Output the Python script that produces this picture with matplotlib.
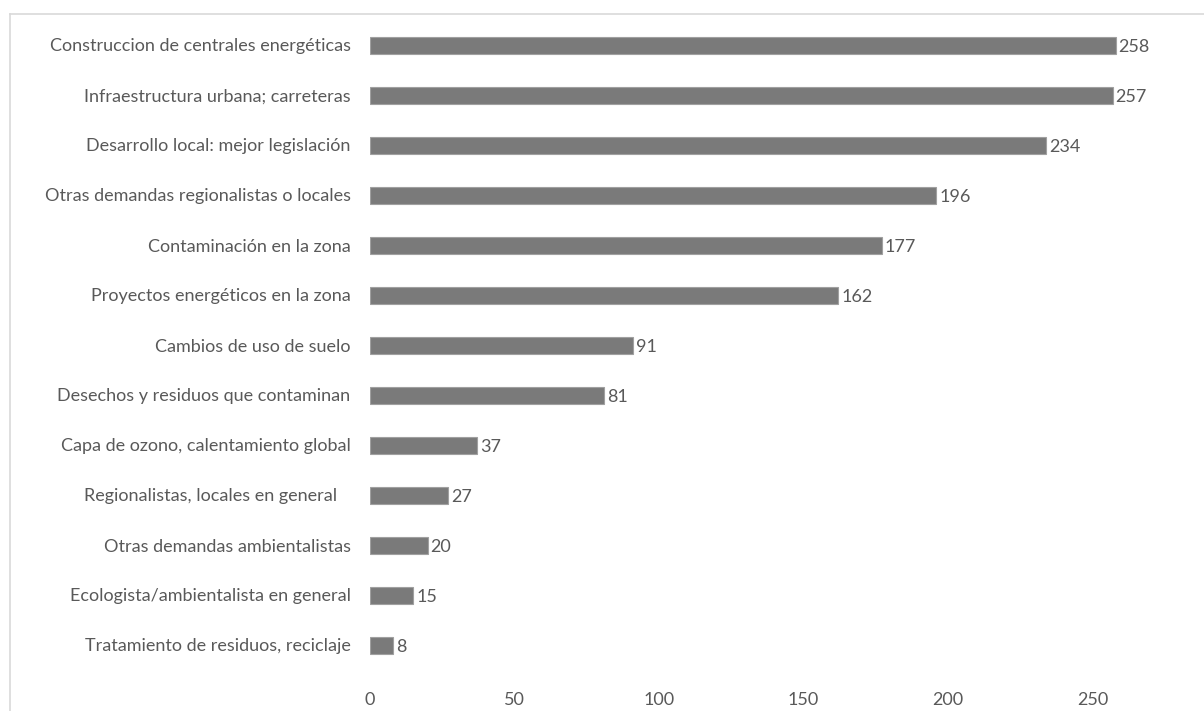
import matplotlib.pyplot as plt
from matplotlib.lines import Line2D

categorias = [
    "Construccion de centrales energéticas",
    "Infraestructura urbana; carreteras",
    "Desarrollo local: mejor legislación",
    "Otras demandas regionalistas o locales",
    "Contaminación en la zona",
    "Proyectos energéticos en la zona",
    "Cambios de uso de suelo",
    "Desechos y residuos que contaminan",
    "Capa de ozono, calentamiento global",
    "Regionalistas, locales en general   ",
    "Otras demandas ambientalistas",
    "Ecologista/ambientalista en general",
    "Tratamiento de residuos, reciclaje",
]
valores = [258, 257, 234, 196, 177, 162, 91, 81, 37, 27, 20, 15, 8]
ticks_x = [0, 50, 100, 150, 200, 250]

plt.rcParams['font.family'] = ['Lato', 'DejaVu Sans']
gris_texto = "#595959"
tam = 13

fig = plt.figure(figsize=(12.04, 7.11), dpi=100)
ax = fig.add_axes([370 / 1204, 1 - 670 / 711, (1190 - 370) / 1204, (670 - 20) / 711])

pos = list(range(len(valores)))
barras = ax.barh(pos, valores, height=0.34, color="#7a7a7a", edgecolor="#a0a0a0", linewidth=0.8)
ax.set_ylim(len(valores) - 0.5, -0.5)
ax.set_xlim(0, 820 / 2.89)

ax.set_yticks(pos)
ax.set_yticklabels(categorias, fontsize=tam, color=gris_texto)
ax.set_xticks(ticks_x)
ax.set_xticklabels([str(t) for t in ticks_x], fontsize=tam, color=gris_texto)
ax.tick_params(axis="y", length=0, pad=14)
ax.tick_params(axis="x", length=0, pad=16)
for s in ax.spines.values():
    s.set_visible(False)

for b, v in zip(barras, valores):
    ax.text(b.get_width() + 1, b.get_y() + b.get_height() / 2, str(v),
            va="center_baseline", ha="left", fontsize=tam, color=gris_texto)

# marco del gráfico
fig.add_artist(Line2D([10 / 1204, 10 / 1204], [0, 1 - 14 / 711], color="#d9d9d9", lw=1.2))
fig.add_artist(Line2D([10 / 1204, 1], [1 - 14 / 711, 1 - 14 / 711], color="#d9d9d9", lw=1.2))

fig.savefig("out.png", dpi=100)
